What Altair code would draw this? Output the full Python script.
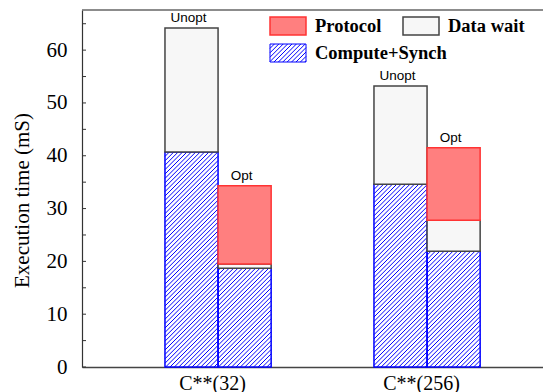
import altair as alt
import pandas as pd
import numpy as np

# ---- values -------------------------------------------------------------
groups = ["C**(32)", "C**(256)"]
variants = ["Unopt", "Opt"]
components = ["Compute+Synch", "Data wait", "Protocol"]
# one entry per (group, variant): 32/Unopt, 32/Opt, 256/Unopt, 256/Opt
compute = [40.7, 18.7, 34.6, 21.9]
data_wait = [23.5, 0.8, 18.6, 5.9]
protocol = [0.0, 14.8, 0.0, 13.7]
tick_values = list(range(0, 66, 5))
label_values = list(range(0, 61, 10))

# ---- layout -------------------------------------------------------------
W, H = 461, 357
Y_MAX = 67.6
X_LO = 0.349
X_HI = X_LO + W / 209.0
BAR_W = 0.254
HATCH_GAP = 4.4  # horizontal px between hatch lines

SERIF = "Liberation Serif"
SANS = "Liberation Sans"
BLUE = "#0000ff"

rows = []
for i, g in enumerate(groups):
    for j, v in enumerate(variants):
        k = i * 2 + j
        x0 = (i + 1) - BAR_W if j == 0 else (i + 1)
        x1 = x0 + BAR_W
        base = 0.0
        for comp, val in zip(components, [compute[k], data_wait[k], protocol[k]]):
            rows.append(dict(group=g, variant=v, component=comp, x0=x0, x1=x1,
                             xc=(x0 + x1) / 2, y0=base, y1=base + val))
            base += val
bars = pd.DataFrame(rows)
bars = bars[bars.y1 > bars.y0]

totals = bars.groupby(["group", "variant"], sort=False).agg(
    xc=("xc", "first"), top=("y1", "max")).reset_index()

# diagonal hatch segments for the Compute+Synch blocks, 45 degrees on screen
px_x = W / (X_HI - X_LO)
px_y = H / Y_MAX
segs = []
for _, r in bars[bars.component == "Compute+Synch"].iterrows():
    bx0 = (r.x0 - X_LO) * px_x
    bx1 = (r.x1 - X_LO) * px_x
    by1 = r.y1 * px_y
    c = np.floor((bx0 - by1) / HATCH_GAP) * HATCH_GAP
    while c < bx1:
        ya = max(0.0, bx0 - c)
        yb = min(by1, bx1 - c)
        if yb > ya + 0.3:
            segs.append(dict(hx=X_LO + (c + ya) / px_x, hy=ya / px_y,
                             hx2=X_LO + (c + yb) / px_x, hy2=yb / px_y))
        c += HATCH_GAP
hatch = pd.DataFrame(segs)

xscale = alt.Scale(domain=[X_LO, X_HI], nice=False, zero=False)
yscale = alt.Scale(domain=[0, Y_MAX], nice=False, zero=True)

label_expr = f"datum.value == 1 ? '{groups[0]}' : '{groups[1]}'"
x_axis = alt.Axis(values=[1, 2], labelExpr=label_expr, ticks=False, grid=False,
                  title=None, labelFont=SERIF, labelFontSize=20, labelPadding=6,
                  labelOffset=-6, domainColor="#444", domainWidth=1.5, labelAngle=0)
y_axis = alt.Axis(values=label_values, ticks=False, grid=False,
                  labelFont=SERIF, labelFontSize=21, labelPadding=15,
                  domainColor="#333", domainWidth=1.2,
                  title="Execution time (mS)", titleFont=SERIF, titleFontSize=21,
                  titleAngle=-90, titleBaseline="alphabetic", titleAlign="center",
                  titleX=-54, titleY=190)


def xy(x0, x1, y0, y1):
    return dict(x=alt.X(f"{x0}:Q", scale=xscale, axis=x_axis), x2=x1,
                y=alt.Y(f"{y0}:Q", scale=yscale, axis=y_axis), y2=y1)


def comp_chart(comp):
    return alt.Chart(bars[bars.component == comp])


compute_fill = comp_chart("Compute+Synch").mark_rect(fill="white").encode(
    **xy("x0", "x1", "y0", "y1"))

hatch_lines = alt.Chart(hatch).mark_rule(color=BLUE, strokeWidth=1).encode(
    **xy("hx", "hx2", "hy", "hy2"))

compute_edge = comp_chart("Compute+Synch").mark_rect(
    fill=None, stroke=BLUE, strokeWidth=1.5).encode(**xy("x0", "x1", "y0", "y1"))

wait_bars = comp_chart("Data wait").mark_rect(
    fill="#f7f7f7", stroke="#444", strokeWidth=1.5).encode(**xy("x0", "x1", "y0", "y1"))

protocol_bars = comp_chart("Protocol").mark_rect(
    fill="#ff7f7f", stroke="#ff3333", strokeWidth=1.5).encode(**xy("x0", "x1", "y0", "y1"))

bar_labels = alt.Chart(totals).mark_text(
    font=SANS, fontSize=13.5, color="black", baseline="alphabetic", dy=-6, dx=-3).encode(
    x=alt.X("xc:Q", scale=xscale, axis=x_axis),
    y=alt.Y("top:Q", scale=yscale, axis=y_axis),
    text="variant:N")

# inward-pointing tick marks along the left edge
ticks = alt.Chart(pd.DataFrame({"v": tick_values})).mark_rule(
    color="#333", strokeWidth=1).encode(
    y=alt.Y("v:Q", scale=yscale, axis=y_axis),
    x=alt.value(0), x2=alt.value(4))

top_frame = alt.Chart(pd.DataFrame({"v": [0]})).mark_rule(
    color="#666", strokeWidth=1.5).encode(
    x=alt.value(0), x2=alt.value(W), y=alt.value(0))

# ---- legend ---------------------------------------------------------------
def legend_text(label, x, y):
    return alt.Chart(pd.DataFrame({"label": [label]})).mark_text(
        font=SERIF, fontSize=18.5, fontWeight="bold", color="black",
        align="left", baseline="middle").encode(
        x=alt.value(x), y=alt.value(y), text="label:N")


def legend_box(label, x, y, fill, stroke):
    return alt.Chart(pd.DataFrame({"label": [label]})).mark_rect(
        fill=fill, stroke=stroke, strokeWidth=1.5).encode(
        x=alt.value(x), x2=alt.value(x + 36), y=alt.value(y), y2=alt.value(y + 18))


# hatched swatch drawn as one custom symbol path
hp = ["M-1,-0.5L1,-0.5L1,0.5L-1,0.5Z"]
step = HATCH_GAP / 18.0
c = -2.0
while c < 1.0:
    ta = max(0.0, -1.0 - c)
    tb = min(1.0, 1.0 - c)
    if tb > ta + 0.02:
        hp.append(f"M{c + ta:.3f},{0.5 - ta:.3f}L{c + tb:.3f},{0.5 - tb:.3f}")
    c += step
hatch_symbol = "".join(hp)

legend_hatch = alt.Chart(pd.DataFrame({"label": [components[0]]})).mark_point(
    shape=hatch_symbol, size=1296, filled=False, stroke=BLUE, strokeWidth=1,
    opacity=1).encode(x=alt.value(206), y=alt.value(43))

legend = [
    legend_box(components[2], 188, 7, "#ff7f7f", "#ff3333"),
    legend_text(components[2], 233, 16),
    legend_box(components[1], 321, 7, "#f7f7f7", "#444"),
    legend_text(components[1], 366, 16),
    legend_hatch,
    legend_text(components[0], 233, 43),
]

chart = alt.layer(
    compute_fill, hatch_lines, compute_edge, wait_bars, protocol_bars,
    bar_labels, ticks, top_frame, *legend
).properties(
    width=W, height=H,
    autosize=alt.AutoSizeParams(type="none"),
    padding={"left": 82, "top": 10, "right": 0, "bottom": 25},
    background="white",
).configure_view(stroke=None).configure_axis(
    labelFont=SERIF, titleFont=SERIF, labelColor="black", titleColor="black",
    titleFontWeight="normal", labelFontWeight="normal",
)

chart.save("out.html", embed_options={"renderer": "svg", "actions": False})
